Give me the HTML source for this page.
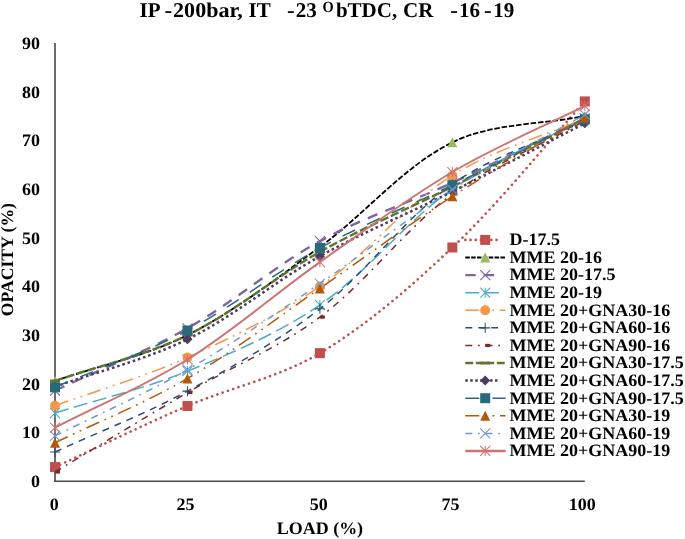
<!DOCTYPE html>
<html lang="en"><head><meta charset="utf-8"><title>Opacity vs Load</title>
<style>
html,body{margin:0;padding:0;background:#fff;}
body{width:685px;height:539px;overflow:hidden;}
svg{display:block;}
text{font-family:"Liberation Serif","Times New Roman",serif;font-weight:bold;fill:#000;text-rendering:geometricPrecision;}
.t{font-size:21px;}
.a{font-size:17.4px;}
</style></head><body>
<svg width="685" height="539" viewBox="0 0 685 539">
<rect width="685" height="539" fill="#fff"/>

<text class="t" x="139.6" y="16.9"><tspan x="139.6" y="16.9">IP</tspan> <tspan x="164.5" y="16.9" textLength="7.7" lengthAdjust="spacingAndGlyphs">-</tspan><tspan x="173.1" y="16.9" textLength="69.6" lengthAdjust="spacingAndGlyphs">200bar,</tspan> <tspan x="248.5" y="16.9">IT</tspan> <tspan x="287.0" y="16.9" textLength="7.7" lengthAdjust="spacingAndGlyphs">-</tspan><tspan x="295.8" y="16.9">23</tspan><tspan x="322.6" y="12.1" style="font-size:15.5px" textLength="11.2" lengthAdjust="spacingAndGlyphs">O</tspan><tspan x="335.9" y="16.9">bTDC,</tspan> <tspan x="403.1" y="16.9">CR</tspan> <tspan x="450.3" y="16.9" textLength="7.7" lengthAdjust="spacingAndGlyphs">-</tspan><tspan x="458.9" y="16.9">16</tspan> <tspan x="484.0" y="16.9" textLength="7.7" lengthAdjust="spacingAndGlyphs">-</tspan><tspan x="493.3" y="16.9">19</tspan></text>
<path d="M55 43V482" stroke="#5c5c5c" stroke-width="1.8" fill="none"/>
<path d="M54.1 481.25H584.8" stroke="#4a4a4a" stroke-width="1.5" fill="none"/>
<text x="40.0" y="487.1" text-anchor="end" class="a" textLength="9.00" lengthAdjust="spacingAndGlyphs">0</text>
<text x="40.0" y="438.4" text-anchor="end" class="a" textLength="18.00" lengthAdjust="spacingAndGlyphs">10</text>
<text x="40.0" y="389.7" text-anchor="end" class="a" textLength="18.00" lengthAdjust="spacingAndGlyphs">20</text>
<text x="40.0" y="341.0" text-anchor="end" class="a" textLength="18.00" lengthAdjust="spacingAndGlyphs">30</text>
<text x="40.0" y="292.3" text-anchor="end" class="a" textLength="18.00" lengthAdjust="spacingAndGlyphs">40</text>
<text x="40.0" y="243.7" text-anchor="end" class="a" textLength="18.00" lengthAdjust="spacingAndGlyphs">50</text>
<text x="40.0" y="195.0" text-anchor="end" class="a" textLength="18.00" lengthAdjust="spacingAndGlyphs">60</text>
<text x="40.0" y="146.3" text-anchor="end" class="a" textLength="18.00" lengthAdjust="spacingAndGlyphs">70</text>
<text x="40.0" y="97.6" text-anchor="end" class="a" textLength="18.00" lengthAdjust="spacingAndGlyphs">80</text>
<text x="40.0" y="48.9" text-anchor="end" class="a" textLength="18.00" lengthAdjust="spacingAndGlyphs">90</text>
<text x="54.2" y="509.5" text-anchor="middle" class="a" textLength="9.00" lengthAdjust="spacingAndGlyphs">0</text>
<text x="185.6" y="509.5" text-anchor="middle" class="a" textLength="18.00" lengthAdjust="spacingAndGlyphs">25</text>
<text x="318.7" y="509.5" text-anchor="middle" class="a" textLength="18.00" lengthAdjust="spacingAndGlyphs">50</text>
<text x="450.4" y="509.5" text-anchor="middle" class="a" textLength="18.00" lengthAdjust="spacingAndGlyphs">75</text>
<text x="582.3" y="509.5" text-anchor="middle" class="a" textLength="27.00" lengthAdjust="spacingAndGlyphs">100</text>
<text x="319.9" y="533.9" text-anchor="middle" class="a" textLength="86.49" lengthAdjust="spacingAndGlyphs">LOAD (%)</text>
<text transform="translate(13.3 316.3) rotate(-90)" textLength="113.3" lengthAdjust="spacingAndGlyphs" class="a">OPACITY (%)</text>
<path d="M55.00 467.08 C99.15 446.71 142.80 425.18 187.45 405.98 C231.10 387.20 279.55 377.29 319.90 353.15 C367.85 324.46 411.54 286.27 452.35 247.49 C499.84 202.36 540.65 150.12 584.80 101.43" fill="none" stroke="#C0504D" stroke-width="2.60" stroke-dasharray="0.1 5.46" stroke-linecap="round"/>
<rect x="50.00" y="462.08" width="10.00" height="10.00" fill="#C0504D"/>
<rect x="182.45" y="400.98" width="10.00" height="10.00" fill="#C0504D"/>
<rect x="314.90" y="348.15" width="10.00" height="10.00" fill="#C0504D"/>
<rect x="447.35" y="242.49" width="10.00" height="10.00" fill="#C0504D"/>
<rect x="579.80" y="96.43" width="10.00" height="10.00" fill="#C0504D"/>
<path d="M55.00 380.90 C99.15 365.65 146.10 356.04 187.45 335.13 C234.40 311.40 277.06 278.19 319.90 247.01 C365.36 213.92 403.29 166.58 452.35 142.33 C491.59 122.92 540.65 124.80 584.80 116.03" fill="none" stroke="#000000" stroke-width="1.80" stroke-dasharray="5.5 1.83" stroke-linecap="butt"/>
<path d="M55.00 375.90L60.00 385.90L50.00 385.90Z" fill="#9BBB59"/>
<path d="M187.45 330.13L192.45 340.13L182.45 340.13Z" fill="#9BBB59"/>
<path d="M319.90 242.01L324.90 252.01L314.90 252.01Z" fill="#9BBB59"/>
<path d="M452.35 137.33L457.35 147.33L447.35 147.33Z" fill="#9BBB59"/>
<path d="M584.80 111.03L589.80 121.03L579.80 121.03Z" fill="#9BBB59"/>
<path d="M55.00 390.64 C99.15 369.86 145.06 352.23 187.45 328.32 C233.36 302.41 273.74 266.53 319.90 241.16 C362.04 218.00 408.57 203.01 452.35 182.74 C496.87 162.12 540.65 139.89 584.80 118.47" fill="none" stroke="#8064A2" stroke-width="2.40" stroke-dasharray="10.4 8.45" stroke-linecap="butt"/>
<path d="M50.00 385.64L60.00 395.64M50.00 395.64L60.00 385.64" stroke="#8064A2" stroke-width="1.05" fill="none"/>
<path d="M182.45 323.32L192.45 333.32M182.45 333.32L192.45 323.32" stroke="#8064A2" stroke-width="1.05" fill="none"/>
<path d="M314.90 236.16L324.90 246.16M314.90 246.16L324.90 236.16" stroke="#8064A2" stroke-width="1.05" fill="none"/>
<path d="M447.35 177.74L457.35 187.74M447.35 187.74L457.35 177.74" stroke="#8064A2" stroke-width="1.05" fill="none"/>
<path d="M579.80 113.47L589.80 123.47M579.80 123.47L589.80 113.47" stroke="#8064A2" stroke-width="1.05" fill="none"/>
<path d="M55.00 413.04 C99.15 399.08 144.71 388.60 187.45 371.16 C233.01 352.57 279.55 332.68 319.90 304.95 C367.85 271.98 404.69 222.61 452.35 189.07 C492.99 160.46 540.65 142.00 584.80 118.47" fill="none" stroke="#4BACC6" stroke-width="1.50" stroke-dasharray="14 5.7" stroke-linecap="butt"/>
<path d="M50.00 408.04L60.00 418.04M50.00 418.04L60.00 408.04M55.00 408.04L55.00 418.04" stroke="#4BACC6" stroke-width="1.05" fill="none"/>
<path d="M182.45 366.16L192.45 376.16M182.45 376.16L192.45 366.16M187.45 366.16L187.45 376.16" stroke="#4BACC6" stroke-width="1.05" fill="none"/>
<path d="M314.90 299.95L324.90 309.95M314.90 309.95L324.90 299.95M319.90 299.95L319.90 309.95" stroke="#4BACC6" stroke-width="1.05" fill="none"/>
<path d="M447.35 184.07L457.35 194.07M447.35 194.07L457.35 184.07M452.35 184.07L452.35 194.07" stroke="#4BACC6" stroke-width="1.05" fill="none"/>
<path d="M579.80 113.47L589.80 123.47M579.80 123.47L589.80 113.47M584.80 113.47L584.80 123.47" stroke="#4BACC6" stroke-width="1.05" fill="none"/>
<path d="M55.00 405.73 C99.15 389.66 144.72 376.77 187.45 357.53 C233.02 337.01 278.82 314.68 319.90 286.44 C367.12 253.98 404.21 205.96 452.35 175.43 C492.51 149.97 540.65 137.46 584.80 118.47" fill="none" stroke="#F79646" stroke-width="1.50" stroke-dasharray="14 5.6 1.75 5.6 1.75 5.6" stroke-linecap="butt"/>
<circle cx="55.00" cy="405.73" r="5.00" fill="#F79646"/>
<circle cx="187.45" cy="357.53" r="5.00" fill="#F79646"/>
<circle cx="319.90" cy="286.44" r="5.00" fill="#F79646"/>
<circle cx="452.35" cy="175.43" r="5.00" fill="#F79646"/>
<circle cx="584.80" cy="118.47" r="5.00" fill="#F79646"/>
<path d="M55.00 451.99 C99.15 431.70 144.79 414.18 187.45 391.13 C233.09 366.46 279.14 340.68 319.90 308.84 C367.44 271.70 403.49 218.86 452.35 184.20 C491.79 156.22 540.65 142.00 584.80 120.90" fill="none" stroke="#2C4D75" stroke-width="1.50" stroke-dasharray="7 6" stroke-linecap="butt"/>
<path d="M50.00 451.99L60.00 451.99M55.00 446.99L55.00 456.99" stroke="#2C4D75" stroke-width="1.05" fill="none"/>
<path d="M182.45 391.13L192.45 391.13M187.45 386.13L187.45 396.13" stroke="#2C4D75" stroke-width="1.05" fill="none"/>
<path d="M314.90 308.84L324.90 308.84M319.90 303.84L319.90 313.84" stroke="#2C4D75" stroke-width="1.05" fill="none"/>
<path d="M447.35 184.20L457.35 184.20M452.35 179.20L452.35 189.20" stroke="#2C4D75" stroke-width="1.05" fill="none"/>
<path d="M579.80 120.90L589.80 120.90M584.80 115.90L584.80 125.90" stroke="#2C4D75" stroke-width="1.05" fill="none"/>
<path d="M55.00 471.95 C99.15 445.49 143.02 418.56 187.45 392.59 C231.32 366.95 279.52 347.40 319.90 317.12 C367.82 281.19 404.26 229.56 452.35 193.94 C492.56 164.15 540.65 145.25 584.80 120.90" fill="none" stroke="#772C2A" stroke-width="1.50" stroke-dasharray="7 5.75 1.75 5.75" stroke-linecap="butt"/>
<rect x="55.00" y="470.35" width="5.00" height="3.20" fill="#772C2A"/>
<rect x="187.45" y="390.99" width="5.00" height="3.20" fill="#772C2A"/>
<rect x="319.90" y="315.52" width="5.00" height="3.20" fill="#772C2A"/>
<rect x="452.35" y="192.34" width="5.00" height="3.20" fill="#772C2A"/>
<rect x="584.80" y="119.30" width="5.00" height="3.20" fill="#772C2A"/>
<path d="M55.00 380.90 C99.15 365.65 145.73 355.45 187.45 335.13 C234.03 312.45 274.47 277.34 319.90 251.88 C362.77 227.84 408.40 208.77 452.35 186.63 C496.70 164.30 540.65 141.19 584.80 118.47" fill="none" stroke="#5F7530" stroke-width="2.40" stroke-dasharray="8.6 2.8" stroke-linecap="butt"/>
<rect x="50.00" y="379.50" width="10.00" height="2.80" fill="#5F7530"/>
<rect x="182.45" y="333.73" width="10.00" height="2.80" fill="#5F7530"/>
<rect x="314.90" y="250.48" width="10.00" height="2.80" fill="#5F7530"/>
<rect x="447.35" y="185.23" width="10.00" height="2.80" fill="#5F7530"/>
<rect x="579.80" y="117.07" width="10.00" height="2.80" fill="#5F7530"/>
<path d="M55.00 386.74 C99.15 370.92 145.62 359.88 187.45 339.27 C233.92 316.38 274.46 281.61 319.90 256.26 C362.76 232.35 408.43 213.54 452.35 191.50 C496.73 169.23 540.65 146.06 584.80 123.34" fill="none" stroke="#4D3B62" stroke-width="2.50" stroke-dasharray="2.6 2.85" stroke-linecap="butt"/>
<path d="M55.00 381.74L60.00 386.74L55.00 391.74L50.00 386.74Z" fill="#4D3B62"/>
<path d="M187.45 334.27L192.45 339.27L187.45 344.27L182.45 339.27Z" fill="#4D3B62"/>
<path d="M319.90 251.26L324.90 256.26L319.90 261.26L314.90 256.26Z" fill="#4D3B62"/>
<path d="M452.35 186.50L457.35 191.50L452.35 196.50L447.35 191.50Z" fill="#4D3B62"/>
<path d="M584.80 118.34L589.80 123.34L584.80 128.34L579.80 123.34Z" fill="#4D3B62"/>
<path d="M55.00 387.23 C99.15 368.32 145.06 352.79 187.45 330.51 C233.36 306.37 274.37 272.96 319.90 247.98 C362.67 224.52 408.39 206.50 452.35 185.17 C496.69 163.66 540.65 141.35 584.80 119.44" fill="none" stroke="#276A7C" stroke-width="1.50" stroke-dasharray="14 13.15" stroke-linecap="butt"/>
<rect x="50.00" y="382.23" width="10.00" height="10.00" fill="#276A7C"/>
<rect x="182.45" y="325.51" width="10.00" height="10.00" fill="#276A7C"/>
<rect x="314.90" y="242.98" width="10.00" height="10.00" fill="#276A7C"/>
<rect x="447.35" y="180.17" width="10.00" height="10.00" fill="#276A7C"/>
<rect x="579.80" y="114.44" width="10.00" height="10.00" fill="#276A7C"/>
<path d="M55.00 442.74 C99.15 421.31 145.16 403.11 187.45 378.47 C233.46 351.66 275.90 318.64 319.90 288.39 C364.20 257.94 407.20 225.50 452.35 196.37 C495.50 168.53 540.65 143.79 584.80 117.49" fill="none" stroke="#B65708" stroke-width="1.50" stroke-dasharray="14 5.75 1.75 5.75 1.75 5.75" stroke-linecap="butt"/>
<path d="M55.00 437.74L60.00 447.74L50.00 447.74Z" fill="#B65708"/>
<path d="M187.45 373.47L192.45 383.47L182.45 383.47Z" fill="#B65708"/>
<path d="M319.90 283.39L324.90 293.39L314.90 293.39Z" fill="#B65708"/>
<path d="M452.35 191.37L457.35 201.37L447.35 201.37Z" fill="#B65708"/>
<path d="M584.80 112.49L589.80 122.49L579.80 122.49Z" fill="#B65708"/>
<path d="M55.00 435.92 C99.15 413.85 144.73 394.28 187.45 369.70 C233.03 343.48 276.35 313.14 319.90 283.52 C364.65 253.09 406.77 218.62 452.35 189.55 C495.07 162.31 540.65 139.57 584.80 114.57" fill="none" stroke="#729ACA" stroke-width="1.50" stroke-dasharray="7 5.75 1.75 5.75" stroke-linecap="butt"/>
<path d="M50.00 430.92L60.00 440.92M50.00 440.92L60.00 430.92" stroke="#729ACA" stroke-width="1.05" fill="none"/>
<path d="M182.45 364.70L192.45 374.70M182.45 374.70L192.45 364.70" stroke="#729ACA" stroke-width="1.05" fill="none"/>
<path d="M314.90 278.52L324.90 288.52M314.90 288.52L324.90 278.52" stroke="#729ACA" stroke-width="1.05" fill="none"/>
<path d="M447.35 184.55L457.35 194.55M447.35 194.55L457.35 184.55" stroke="#729ACA" stroke-width="1.05" fill="none"/>
<path d="M579.80 109.57L589.80 119.57M579.80 119.57L589.80 109.57" stroke="#729ACA" stroke-width="1.05" fill="none"/>
<path d="M55.00 427.64 C99.15 404.92 145.47 385.71 187.45 359.48 C233.77 330.53 275.18 293.75 319.90 262.10 C363.48 231.26 406.47 199.10 452.35 172.03 C494.77 147.00 540.65 127.88 584.80 105.81" fill="none" stroke="#CD7371" stroke-width="1.90" stroke-linecap="butt"/>
<path d="M50.00 422.64L60.00 432.64M50.00 432.64L60.00 422.64M55.00 422.64L55.00 432.64" stroke="#CD7371" stroke-width="1.05" fill="none"/>
<path d="M182.45 354.48L192.45 364.48M182.45 364.48L192.45 354.48M187.45 354.48L187.45 364.48" stroke="#CD7371" stroke-width="1.05" fill="none"/>
<path d="M314.90 257.10L324.90 267.10M314.90 267.10L324.90 257.10M319.90 257.10L319.90 267.10" stroke="#CD7371" stroke-width="1.05" fill="none"/>
<path d="M447.35 167.03L457.35 177.03M447.35 177.03L457.35 167.03M452.35 167.03L452.35 177.03" stroke="#CD7371" stroke-width="1.05" fill="none"/>
<path d="M579.80 100.81L589.80 110.81M579.80 110.81L589.80 100.81M584.80 100.81L584.80 110.81" stroke="#CD7371" stroke-width="1.05" fill="none"/>
<path d="M465.3 239.90H499.9" fill="none" stroke="#C0504D" stroke-width="2.60" stroke-dasharray="0.1 5.1" stroke-linecap="round"/>
<rect x="480.20" y="234.90" width="10.00" height="10.00" fill="#C0504D"/>
<text x="509.6" y="245.20" class="a" textLength="50.49" lengthAdjust="spacingAndGlyphs">D-17.5</text>
<path d="M465.3 257.49H505.6" fill="none" stroke="#000000" stroke-width="1.80" stroke-dasharray="4.55 1.3" stroke-linecap="butt"/>
<path d="M485.20 252.49L490.20 262.49L480.20 262.49Z" fill="#9BBB59"/>
<text x="509.6" y="262.79" class="a" textLength="92.48" lengthAdjust="spacingAndGlyphs">MME 20-16</text>
<path d="M465.3 275.08H494.5" fill="none" stroke="#8064A2" stroke-width="2.40" stroke-dasharray="10.4 8.1" stroke-linecap="butt"/>
<path d="M480.20 270.08L490.20 280.08M480.20 280.08L490.20 270.08" stroke="#8064A2" stroke-width="1.05" fill="none"/>
<text x="509.6" y="280.38" class="a" textLength="105.98" lengthAdjust="spacingAndGlyphs">MME 20-17.5</text>
<path d="M465.3 292.67H499.7" fill="none" stroke="#4BACC6" stroke-width="1.50" stroke-dasharray="14 5.7" stroke-linecap="butt"/>
<path d="M480.20 287.67L490.20 297.67M480.20 297.67L490.20 287.67M485.20 287.67L485.20 297.67" stroke="#4BACC6" stroke-width="1.05" fill="none"/>
<text x="509.6" y="297.97" class="a" textLength="92.48" lengthAdjust="spacingAndGlyphs">MME 20-19</text>
<path d="M465.3 310.26H505.6" fill="none" stroke="#F79646" stroke-width="1.50" stroke-dasharray="14 5.6 1.75 5.6 1.75 5.6" stroke-linecap="butt"/>
<circle cx="485.20" cy="310.26" r="5.00" fill="#F79646"/>
<text x="509.6" y="315.56" class="a" textLength="160.73" lengthAdjust="spacingAndGlyphs">MME 20+GNA30-16</text>
<path d="M465.3 327.85H498.0" fill="none" stroke="#2C4D75" stroke-width="1.50" stroke-dasharray="7 6" stroke-linecap="butt"/>
<path d="M480.20 327.85L490.20 327.85M485.20 322.85L485.20 332.85" stroke="#2C4D75" stroke-width="1.05" fill="none"/>
<text x="509.6" y="333.15" class="a" textLength="160.73" lengthAdjust="spacingAndGlyphs">MME 20+GNA60-16</text>
<path d="M465.3 345.44H500.0" fill="none" stroke="#772C2A" stroke-width="1.50" stroke-dasharray="7 5.75 1.75 5.75" stroke-linecap="butt"/>
<rect x="485.20" y="343.84" width="5.00" height="3.20" fill="#772C2A"/>
<text x="509.6" y="350.74" class="a" textLength="160.73" lengthAdjust="spacingAndGlyphs">MME 20+GNA90-16</text>
<path d="M465.3 363.03H505.6" fill="none" stroke="#5F7530" stroke-width="2.40" stroke-dasharray="7.9 2.6" stroke-linecap="butt"/>
<rect x="480.20" y="361.63" width="10.00" height="2.80" fill="#5F7530"/>
<text x="509.6" y="368.33" class="a" textLength="174.23" lengthAdjust="spacingAndGlyphs">MME 20+GNA30-17.5</text>
<path d="M465.3 380.62H499.9" fill="none" stroke="#4D3B62" stroke-width="2.50" stroke-dasharray="2.5 2.45" stroke-linecap="butt"/>
<path d="M485.20 375.62L490.20 380.62L485.20 385.62L480.20 380.62Z" fill="#4D3B62"/>
<text x="509.6" y="385.92" class="a" textLength="174.23" lengthAdjust="spacingAndGlyphs">MME 20+GNA60-17.5</text>
<path d="M465.3 398.21H505.6" fill="none" stroke="#276A7C" stroke-width="1.50" stroke-dasharray="14 13.15" stroke-linecap="butt"/>
<rect x="480.20" y="393.21" width="10.00" height="10.00" fill="#276A7C"/>
<text x="509.6" y="403.51" class="a" textLength="174.23" lengthAdjust="spacingAndGlyphs">MME 20+GNA90-17.5</text>
<path d="M465.3 415.80H505.6" fill="none" stroke="#B65708" stroke-width="1.50" stroke-dasharray="14 5.75 1.75 5.75 1.75 5.75" stroke-linecap="butt"/>
<path d="M485.20 410.80L490.20 420.80L480.20 420.80Z" fill="#B65708"/>
<text x="509.6" y="421.10" class="a" textLength="160.73" lengthAdjust="spacingAndGlyphs">MME 20+GNA30-19</text>
<path d="M465.3 433.39H500.1" fill="none" stroke="#729ACA" stroke-width="1.50" stroke-dasharray="7 5.75 1.75 5.75" stroke-linecap="butt"/>
<path d="M480.20 428.39L490.20 438.39M480.20 438.39L490.20 428.39" stroke="#729ACA" stroke-width="1.05" fill="none"/>
<text x="509.6" y="438.69" class="a" textLength="160.73" lengthAdjust="spacingAndGlyphs">MME 20+GNA60-19</text>
<path d="M465.3 450.98H505.6" fill="none" stroke="#CD7371" stroke-width="2.40" stroke-linecap="butt"/>
<path d="M480.20 445.98L490.20 455.98M480.20 455.98L490.20 445.98M485.20 445.98L485.20 455.98" stroke="#CD7371" stroke-width="1.05" fill="none"/>
<text x="509.6" y="456.28" class="a" textLength="160.73" lengthAdjust="spacingAndGlyphs">MME 20+GNA90-19</text>
</svg></body></html>
